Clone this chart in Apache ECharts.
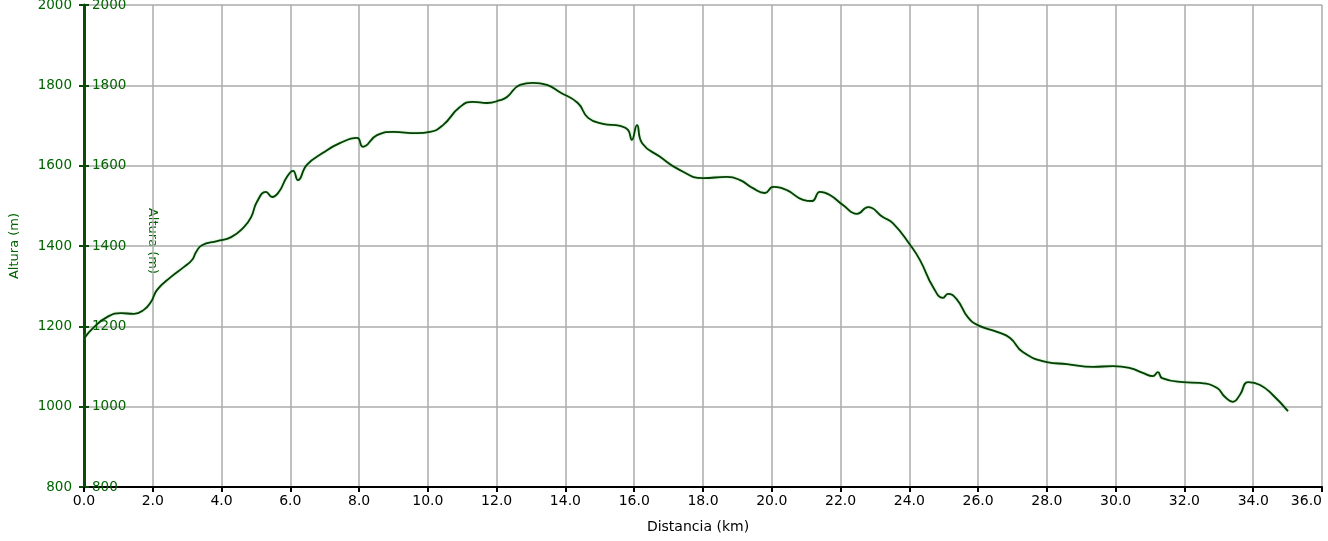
<!DOCTYPE html>
<html>
<head>
<meta charset="utf-8">
<script src="https://cdn.jsdelivr.net/npm/echarts@6/dist/echarts.min.js"></script>
<style>
  html, body { margin: 0; padding: 0; background: #fff; }
  #mainChart { width: 1328px; height: 541px; }
</style>
</head>
<body>
<div id="mainChart"></div>
<script>
// distancia en km
var distancias = [0.00, 0.29, 0.67, 1.08, 1.45, 1.74, 1.95, 2.12, 2.53, 2.91, 3.14, 3.26, 3.43, 3.87, 4.28,
  4.65, 4.86, 5.03, 5.29, 5.47, 5.67, 5.90, 6.08, 6.22, 6.48, 6.95, 7.44, 7.94, 8.11, 8.52, 8.99, 9.68,
  10.06, 10.44, 10.93, 11.31, 11.72, 12.10, 12.30, 12.68, 13.06, 13.46, 13.84, 14.36, 14.66, 15.09,
  15.59, 15.82, 15.93, 16.08, 16.23, 16.75, 17.33, 18.00, 18.70, 19.08, 19.45, 19.80, 20.04, 20.44,
  20.91, 21.17, 21.40, 21.69, 22.07, 22.48, 22.80, 23.23, 23.52, 24.02, 24.31, 24.69, 24.98, 25.12,
  25.39, 25.70, 25.99, 26.55, 26.93, 27.30, 28.00, 28.58, 29.34, 29.92, 30.42, 30.79, 31.08, 31.23,
  31.35, 31.96, 32.45, 32.94, 33.18, 33.41, 33.61, 33.85, 34.20, 34.57, 35.01]

// altura en m
var alturas = [1170, 1198, 1223, 1233, 1231, 1241, 1261, 1290, 1323, 1348, 1365, 1385, 1402, 1412, 1422,
  1447, 1472, 1510, 1535, 1522, 1535, 1572, 1587, 1564, 1602, 1632, 1656, 1669, 1647, 1676, 1684, 1681,
  1684, 1701, 1746, 1759, 1756, 1763, 1771, 1801, 1806, 1801, 1783, 1756, 1719, 1704,
  1699, 1689, 1664, 1701, 1656, 1622, 1589, 1569, 1572, 1564, 1544, 1532, 1547, 1539,
  1515, 1512, 1535, 1527, 1502, 1480, 1497, 1472, 1457, 1403, 1365, 1298, 1271, 1281,
  1266, 1223, 1203, 1186, 1171, 1136, 1111, 1106, 1099, 1101, 1096, 1084, 1076, 1086,
  1071, 1061, 1059, 1047, 1024, 1012, 1029, 1061, 1054, 1029, 989]

var xMin = 0, xMax = 36, xPaso = 2
var yMin = 800, yMax = 2000, yPaso = 200

var verde = '#006400'
var fuente = 'DejaVu Sans'

var perfil = distancias.map(function (d, i) { return [d, alturas[i]] })

var myChart = echarts.init(document.getElementById('mainChart'))

var option = {
  animation: false,
  grid: { left: 84, right: 6, top: 5, bottom: 54, outerBoundsMode: 'none' },
  graphic: [
    {
      // segundo titulo del eje, dentro del area
      type: 'text',
      x: 152, y: 241,
      rotation: -Math.PI / 2,
      style: {
        text: 'Altura (m)',
        fill: verde,
        font: '13px "DejaVu Sans"',
        align: 'center',
        verticalAlign: 'middle'
      }
    }
  ],
  xAxis: {
    type: 'value',
    min: xMin, max: xMax, interval: xPaso,
    name: 'Distancia (km)',
    nameLocation: 'middle',
    nameGap: 33,
    nameTextStyle: { color: '#000', fontFamily: fuente, fontSize: 14, padding: [0, 10, 0, 0] },
    axisLine: { lineStyle: { color: '#000', width: 2 } },
    axisTick: { length: 5, lineStyle: { color: '#000', width: 2 } },
    axisLabel: {
      color: '#000', fontFamily: fuente, fontSize: 14, margin: 7,
      alignMaxLabel: 'right',
      formatter: function (v) { return v.toFixed(1) }
    },
    splitLine: { lineStyle: { color: '#ababab', width: 1.5 } }
  },
  yAxis: [
    {
      type: 'value',
      min: yMin, max: yMax, interval: yPaso,
      name: 'Altura (m)',
      nameLocation: 'middle',
      nameGap: 63,
      nameTextStyle: { color: verde, fontFamily: fuente, fontSize: 13 },
      axisLine: { show: true, lineStyle: { color: '#0b4a0b', width: 3 } },
      axisTick: { show: true, length: 5, lineStyle: { color: '#0b4a0b', width: 2 } },
      axisLabel: {
        color: verde, fontFamily: fuente, fontSize: 13.5, margin: 12,
        formatter: function (v) { return String(v) }
      },
      splitLine: { lineStyle: { color: '#ababab', width: 1.5 } }
    },
    {
      type: 'value',
      position: 'left',
      min: yMin, max: yMax, interval: yPaso,
      axisLine: { show: false },
      axisTick: { show: true, inside: true, length: 5, lineStyle: { color: '#0b4a0b', width: 2 } },
      axisLabel: {
        inside: true, color: verde, fontFamily: fuente, fontSize: 13.5, margin: 8,
        formatter: function (v) { return String(v) }
      },
      splitLine: { show: false }
    }
  ],
  series: [
    {
      type: 'line',
      data: perfil,
      smooth: 0.5,
      showSymbol: false,
      lineStyle: {
        color: '#053f05', width: 1.8,
        shadowColor: 'rgba(110, 210, 110, 0.7)', shadowBlur: 2
      }
    }
  ]
}

myChart.setOption(option)
</script>
</body>
</html>
